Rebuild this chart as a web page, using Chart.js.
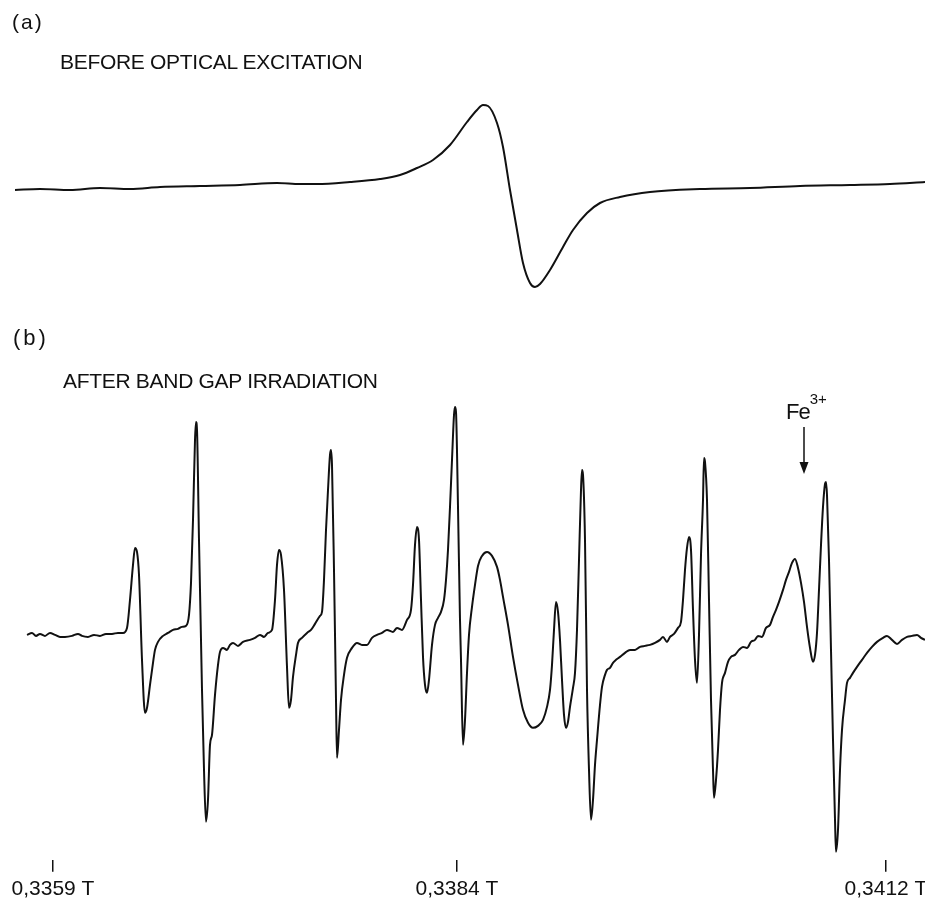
<!DOCTYPE html>
<html>
<head>
<meta charset="utf-8">
<title>ESR spectra before and after band gap irradiation</title>
<script src="https://cdn.jsdelivr.net/npm/chart.js@4.4.1/dist/chart.umd.min.js"></script>
<style>
  html, body { margin: 0; padding: 0; background: #fff; overflow: hidden; }
  #page { position: relative; width: 925px; height: 903px; overflow: hidden; }
  canvas { position: absolute; left: 0; }
  #chartA { top: 0; }
  #chartB { top: 300px; }
  .lbl { position: absolute; font-family: "Liberation Sans", Arial, sans-serif; color: #111; line-height: 1; white-space: nowrap; }
  #tagA { left: 12px; top: 11px; font-size: 21px; letter-spacing: 2px; }
  #titleA { left: 60px; top: 51px; font-size: 21px; letter-spacing: -0.3px; }
  #tagB { left: 13px; top: 327px; font-size: 22px; letter-spacing: 3px; }
  #titleB { left: 63px; top: 370px; font-size: 21px; letter-spacing: -0.3px; }
  #fe { left: 786px; top: 401px; font-size: 22px; letter-spacing: -1px; }
  #fe span { font-size: 15px; position: relative; top: -15px; letter-spacing: 0; }
</style>
</head>
<body>
<div id="page">
  <canvas id="chartA" width="925" height="300"></canvas>
  <canvas id="chartB" width="925" height="607"></canvas>
  <div class="lbl" id="tagA">(a)</div>
  <div class="lbl" id="titleA">BEFORE OPTICAL EXCITATION</div>
  <div class="lbl" id="tagB">(b)</div>
  <div class="lbl" id="titleB">AFTER BAND GAP IRRADIATION</div>
  <div class="lbl" id="fe">Fe<span>3+</span></div>
</div>
<script>
// sweep position (arbitrary units along the field sweep) and signal (arb. units, up = positive)
const fieldA = [15, 40, 70, 100, 130, 160, 200, 240, 277, 300,
  317, 350, 380, 400, 417, 433, 450, 467, 477, 483,
  488, 497, 503, 510, 517, 523, 530, 535, 540, 550,
  563, 573, 587, 600, 620, 650, 700, 750, 800, 850,
  890, 925];
const signalA = [0, 1, 0, 2, 1, 3, 4, 5, 7, 6,
  6, 8, 11, 15, 22, 30, 45, 68, 80, 85,
  84, 67, 43, 0, -40, -73, -93, -97, -94, -80,
  -57, -40, -23, -13, -7, -2, 1, 2, 4, 5,
  6, 8];

const fieldB = [27, 32, 36, 40, 45, 50, 55, 60, 65, 72,
  78, 82, 88, 94, 100, 106, 112, 118, 123, 127,
  130, 133, 135, 137, 139, 142, 145, 147, 150, 153,
  155, 158, 163, 168, 173, 178, 182, 186, 189, 191,
  193, 195, 196, 197, 199, 202, 204, 206, 208, 210,
  212, 215, 218, 220, 223, 227, 230, 233, 238, 243,
  250, 255, 260, 264, 268, 272, 275, 277, 279, 281,
  284, 287, 289, 291, 293, 296, 298, 302, 307, 311,
  315, 320, 322, 324, 326, 328, 330, 331, 332, 334,
  336, 337, 339, 341, 344, 347, 352, 357, 362, 367,
  372, 377, 382, 387, 393, 397, 402, 407, 411, 413,
  415, 417, 419, 421, 423, 425, 427, 429, 432, 435,
  438, 441, 444, 446, 448, 450, 452, 454, 455, 456,
  458, 460, 461, 463, 465, 467, 469, 472, 475, 478,
  482, 487, 492, 497, 500, 503, 508, 513, 518, 523,
  528, 533, 538, 543, 547, 550, 552, 554, 556, 558,
  560, 562, 564, 566, 568, 570, 573, 575, 577, 579,
  581, 582, 583, 585, 587, 589, 591, 593, 595, 597,
  600, 602, 605, 607, 610, 613, 616, 620, 625, 630,
  635, 640, 645, 650, 655, 660, 663, 667, 670, 674,
  678, 681, 683, 685, 687, 689, 691, 693, 695, 697,
  699, 701, 703, 704, 705, 707, 709, 711, 713, 714,
  716, 718, 720, 722, 725, 728, 731, 735, 739, 743,
  747, 751, 755, 758, 762, 766, 770, 773, 776, 779,
  783, 786, 789, 792, 795, 798, 801, 804, 807, 810,
  813, 815, 817, 819, 821, 823, 825, 826, 827, 829,
  831, 833, 835, 836, 838, 840, 842, 845, 847, 850,
  853, 857, 862, 867, 872, 877, 883, 887, 892, 897,
  902, 907, 912, 917, 921, 925];
const signalB = [0, 2, -1, 1, -1, 2, 0, -2, -2, -1,
  1, -1, -2, 0, -1, 1, 1, 2, 2, 7,
  35, 70, 87, 83, 60, -25, -78, -73, -50, -28,
  -15, -7, -1, 2, 5, 6, 8, 9, 20, 52,
  115, 195, 213, 205, 95, -55, -135, -187, -165, -110,
  -100, -60, -30, -17, -13, -15, -10, -8, -11, -7,
  -5, -3, 0, -2, 2, 5, 35, 70, 85, 80,
  45, -32, -73, -65, -42, -20, -8, -3, 2, 5,
  11, 19, 23, 55, 105, 145, 180, 185, 170, 65,
  -65, -123, -95, -65, -40, -23, -13, -8, -10, -10,
  -3, 0, 2, 5, 3, 7, 5, 15, 25, 50,
  90, 108, 95, 35, -22, -50, -58, -45, -10, 10,
  17, 23, 35, 55, 85, 128, 175, 220, 228, 223,
  128, 15, -25, -110, -85, -38, 0, 28, 50, 69,
  79, 83, 79, 68, 55, 38, 10, -22, -50, -75,
  -88, -93, -91, -85, -72, -55, -30, 5, 33, 23,
  -5, -45, -80, -93, -87, -72, -53, -38, 5, 75,
  145, 165, 160, 95, -55, -135, -185, -165, -130, -105,
  -70, -52, -40, -35, -33, -28, -25, -22, -18, -15,
  -15, -12, -11, -10, -8, -5, -2, -7, -2, 1,
  7, 13, 35, 65, 87, 98, 85, 25, -25, -48,
  0, 80, 135, 177, 173, 135, 35, -65, -135, -163,
  -145, -115, -75, -48, -38, -27, -22, -20, -15, -12,
  -13, -7, -5, -1, -2, 7, 10, 18, 25, 33,
  45, 55, 63, 72, 76, 67, 52, 33, 8, -13,
  -27, -20, 2, 45, 90, 128, 151, 153, 140, 75,
  -15, -105, -185, -217, -195, -135, -95, -65, -48, -43,
  -38, -32, -25, -18, -12, -7, -3, -1, -5, -9,
  -5, -2, -1, 0, -3, -5];

const tickPositions = [53, 457, 886];
const tickLabels = ['0,3359 T', '0,3384 T', '0,3412 T'];

// Fe3+ marker: sweep position, arrow start and tip (signal units)
const feArrowX = 804;
const feArrowTop = 208;
const feArrowTip = 161;

const toPoints = (xs, ys) => xs.map((x, i) => ({ x, y: ys[i] }));

const traceStyle = {
  borderColor: '#111',
  borderWidth: 2,
  pointRadius: 0,
  fill: false,
  cubicInterpolationMode: 'monotone'
};

const feArrow = {
  id: 'feArrow',
  afterDatasetsDraw(chart) {
    const { ctx, scales: { x, y } } = chart;
    const px = x.getPixelForValue(feArrowX);
    const top = y.getPixelForValue(feArrowTop);
    const tip = y.getPixelForValue(feArrowTip);
    ctx.save();
    ctx.strokeStyle = '#111';
    ctx.fillStyle = '#111';
    ctx.lineWidth = 1.5;
    ctx.beginPath();
    ctx.moveTo(px, top);
    ctx.lineTo(px, tip - 10);
    ctx.stroke();
    ctx.beginPath();
    ctx.moveTo(px - 4.5, tip - 12);
    ctx.lineTo(px + 4.5, tip - 12);
    ctx.lineTo(px, tip);
    ctx.closePath();
    ctx.fill();
    ctx.restore();
  }
};

const createChart = (id, data, yMin, yMax, xAxis, plugins) => new Chart(document.getElementById(id), {
  type: 'line',
  data: { datasets: [{ ...traceStyle, data }] },
  options: {
    responsive: false,
    animation: false,
    layout: { padding: 0 },
    plugins: { legend: { display: false }, tooltip: { enabled: false } },
    scales: {
      x: { type: 'linear', min: 0, max: 925, ...xAxis },
      y: { type: 'linear', min: yMin, max: yMax, display: false }
    }
  },
  plugins
});

createChart('chartA', toPoints(fieldA, signalA), -110, 190, { display: false }, []);

createChart('chartB', toPoints(fieldB, signalB), -225, 335, {
  position: 'bottom',
  border: { display: false },
  grid: { drawOnChartArea: false, drawTicks: true, tickLength: 12, color: '#111', lineWidth: 1.5 },
  ticks: {
    autoSkip: false,
    maxRotation: 0,
    padding: 5,
    color: '#111',
    font: { family: 'Liberation Sans', size: 21 },
    callback: (v) => tickLabels[tickPositions.indexOf(v)]
  },
  afterBuildTicks: (axis) => { axis.ticks = tickPositions.map((v) => ({ value: v })); },
  afterFit: (axis) => { axis.paddingLeft = 0; axis.paddingRight = 0; }
}, [feArrow]);
</script>
</body>
</html>
